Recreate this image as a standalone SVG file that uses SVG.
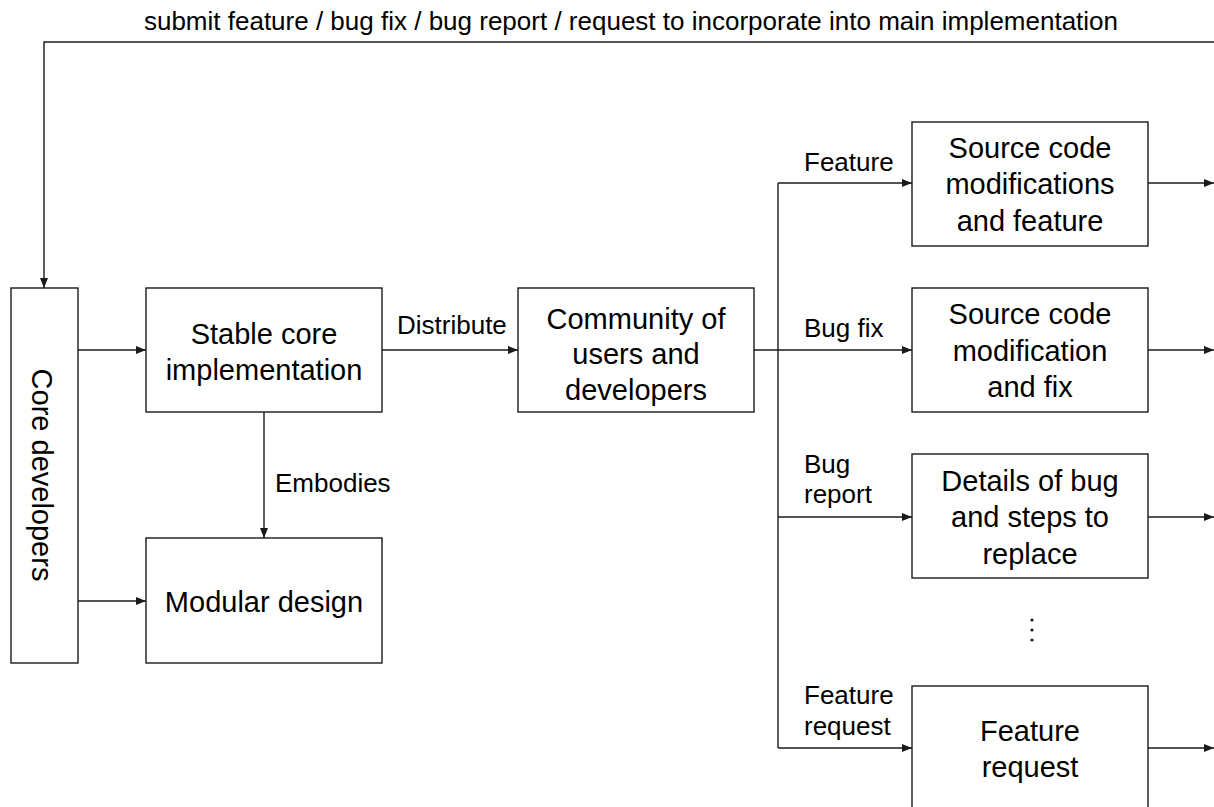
<svg xmlns="http://www.w3.org/2000/svg" width="1214" height="807" viewBox="0 0 1214 807">
  <style>
    .box { fill: #ffffff; stroke: #1a1a1a; stroke-width: 1.4; }
    .wire { fill: none; stroke: #1a1a1a; stroke-width: 1.4; }
    .node-text { font-family: "Liberation Sans", Arial, sans-serif; font-size: 29px; fill: #000000; text-anchor: middle; }
    .edge-text { font-family: "Liberation Sans", Arial, sans-serif; font-size: 26px; fill: #000000; }
  </style>
  <defs>
    <marker id="arrow" markerUnits="userSpaceOnUse" markerWidth="11" markerHeight="9" refX="10" refY="4" orient="auto">
      <path d="M0,0 L10,4 L0,8 Z" fill="#1a1a1a"/>
    </marker>
  </defs>

  <rect width="1214" height="807" fill="#ffffff"/>

  <!-- connectors -->
  <g id="connectors">
    <!-- feedback loop back to the core team -->
    <path class="wire" d="M1214,42 H44 V288" marker-end="url(#arrow)"/>
    <text class="edge-text" x="631" y="30" text-anchor="middle">submit feature / bug fix / bug report / request to incorporate into main implementation</text>

    <path class="wire" d="M78,350 H146" marker-end="url(#arrow)"/>
    <path class="wire" d="M78,601 H146" marker-end="url(#arrow)"/>

    <path class="wire" d="M382,350 H518" marker-end="url(#arrow)"/>
    <text class="edge-text" x="397" y="334">Distribute</text>

    <path class="wire" d="M264,412 V538" marker-end="url(#arrow)"/>
    <text class="edge-text" x="275" y="492">Embodies</text>

    <!-- community fan-out -->
    <path class="wire" d="M754,350 H912" marker-end="url(#arrow)"/>
    <path class="wire" d="M778,183 V748"/>
    <path class="wire" d="M778,183 H912" marker-end="url(#arrow)"/>
    <path class="wire" d="M778,517 H912" marker-end="url(#arrow)"/>
    <path class="wire" d="M778,748 H912" marker-end="url(#arrow)"/>
    <text class="edge-text" x="804" y="171">Feature</text>
    <text class="edge-text" x="804" y="337">Bug fix</text>
    <text class="edge-text" x="804" y="473">Bug</text>
    <text class="edge-text" x="804" y="503">report</text>
    <text class="edge-text" x="804" y="704">Feature</text>
    <text class="edge-text" x="804" y="735">request</text>

    <!-- outputs leaving to the right -->
    <path class="wire" d="M1148,183 H1214" marker-end="url(#arrow)"/>
    <path class="wire" d="M1148,350 H1214" marker-end="url(#arrow)"/>
    <path class="wire" d="M1148,517 H1214" marker-end="url(#arrow)"/>
    <path class="wire" d="M1148,748 H1214" marker-end="url(#arrow)"/>
  </g>

  <g id="core-developers">
    <rect class="box" x="11" y="288" width="67" height="375"/>
    <text class="node-text" transform="translate(32,475) rotate(90)" x="0" y="0">Core developers</text>
  </g>

  <g id="stable-core">
    <rect class="box" x="146" y="288" width="236" height="124"/>
    <text class="node-text" x="264" y="344">Stable core</text>
    <text class="node-text" x="264" y="380">implementation</text>
  </g>

  <g id="modular-design">
    <rect class="box" x="146" y="538" width="236" height="125"/>
    <text class="node-text" x="264" y="612">Modular design</text>
  </g>

  <g id="community">
    <rect class="box" x="518" y="288" width="236" height="124"/>
    <text class="node-text" x="636" y="329">Community of</text>
    <text class="node-text" x="636" y="364">users and</text>
    <text class="node-text" x="636" y="400">developers</text>
  </g>

  <g id="feature-mods">
    <rect class="box" x="912" y="122" width="236" height="124"/>
    <text class="node-text" x="1030" y="158">Source code</text>
    <text class="node-text" x="1030" y="194">modifications</text>
    <text class="node-text" x="1030" y="231">and feature</text>
  </g>

  <g id="bugfix-mods">
    <rect class="box" x="912" y="288" width="236" height="124"/>
    <text class="node-text" x="1030" y="324">Source code</text>
    <text class="node-text" x="1030" y="361">modification</text>
    <text class="node-text" x="1030" y="397">and fix</text>
  </g>

  <g id="bug-details">
    <rect class="box" x="912" y="454" width="236" height="124"/>
    <text class="node-text" x="1030" y="491">Details of bug</text>
    <text class="node-text" x="1030" y="527">and steps to</text>
    <text class="node-text" x="1030" y="564">replace</text>
  </g>

  <!-- more kinds of contribution omitted -->
  <g id="ellipsis" fill="#1a1a1a">
    <circle cx="1032" cy="620" r="1.6"/>
    <circle cx="1032" cy="630" r="1.6"/>
    <circle cx="1032" cy="640" r="1.6"/>
  </g>

  <g id="feature-request">
    <rect class="box" x="912" y="686" width="236" height="124"/>
    <text class="node-text" x="1030" y="741">Feature</text>
    <text class="node-text" x="1030" y="777">request</text>
  </g>
</svg>
